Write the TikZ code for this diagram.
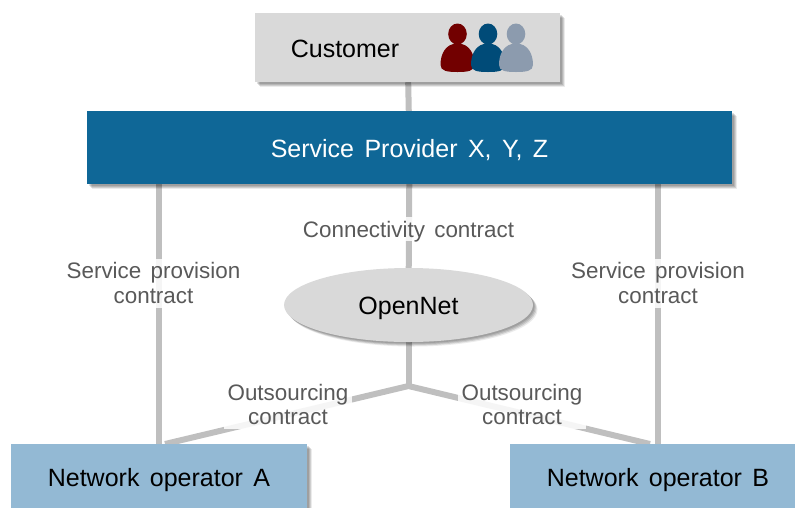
\documentclass[tikz,border=0pt]{standalone}
\usepackage{fontspec}
\setmainfont[WordSpace=1.5]{Liberation Sans}
\usetikzlibrary{shadows,shapes.geometric,backgrounds}
\definecolor{boxgray}{HTML}{D9D9D9}
\definecolor{provblue}{HTML}{0F6797}
\definecolor{opblue}{HTML}{93B9D4}
\definecolor{linkgray}{HTML}{BFBFBF}
\definecolor{labelgray}{HTML}{595959}
\definecolor{pred}{HTML}{720000}
\definecolor{pblue}{HTML}{004B78}
\definecolor{pgray}{HTML}{8C9BAE}
\newcommand{\lowered}[2]{\raisebox{-#1pt}[0pt][0pt]{#2}}
\tikzset{
  softshadow/.style={
    general shadow={shadow xshift=1.5pt,shadow yshift=-1.5pt,fill=black,opacity=.12},
    general shadow={shadow xshift=2.5pt,shadow yshift=-2.5pt,fill=black,opacity=.12},
    general shadow={shadow xshift=3.5pt,shadow yshift=-3.5pt,fill=black,opacity=.12},
    general shadow={shadow xshift=4.5pt,shadow yshift=-4.5pt,fill=black,opacity=.08}},
  boxnode/.style={rectangle,softshadow,inner sep=0pt,font=\fontsize{25}{30}\selectfont},
  link/.style={draw=linkgray,line width=6pt},
  lbl/.style={fill=white,fill opacity=.86,text opacity=1,text=labelgray,inner sep=0pt,align=center,
    font=\fontsize{22.4}{24.5}\selectfont},
}
\newcommand{\person}[3]{%
  \fill[#1] (#2,#3) ellipse [x radius=9.3pt,y radius=10.5pt];
  \fill[#1] (#2-17,#3+31) .. controls (#2-17,#3+20) and (#2-12,#3+9.5) .. (#2,#3+9.5)
    .. controls (#2+12,#3+9.5) and (#2+17,#3+20) .. (#2+17,#3+31)
    .. controls (#2+17,#3+37) and (#2+10,#3+38) .. (#2,#3+38)
    .. controls (#2-10,#3+38) and (#2-17,#3+37) .. (#2-17,#3+31) -- cycle;
}
\begin{document}
\begin{tikzpicture}[x=1pt,y=-1pt]
\useasboundingbox (0,0) rectangle (795,507);
\node[boxnode,fill=boxgray,minimum width=305pt,minimum height=69pt] (customer) at (407.5,47.5) {};
\node[anchor=center,font=\fontsize{25}{30}\selectfont] (customertext) at (345,49) {Customer};
\node[boxnode,fill=provblue,text=white,minimum width=645pt,minimum height=73pt] (provider) at (409.5,147.5) {\lowered{9.5}{Service Provider X, Y, Z}};
\node[ellipse,softshadow,fill=boxgray,inner sep=0pt,minimum width=249pt,minimum height=74pt,font=\fontsize{25}{30}\selectfont] (opennet) at (408.5,305) {\lowered{9}{OpenNet}};
\node[boxnode,fill=opblue,minimum width=296pt,minimum height=64pt] (opa) at (159,476) {\lowered{10}{Network operator A}};
\node[boxnode,fill=opblue,minimum width=285pt,minimum height=64pt] (opb) at (652.5,476) {\hspace*{11pt}\lowered{10}{Network operator B}};
\person{pred}{457.5}{34}
\person{pblue}{488}{34}
\person{pgray}{516}{34}
\coordinate (junction) at (408.5,386);
\coordinate (provleft) at (159,184);
\coordinate (provright) at (658,184);
\coordinate (opatop) at (159,444);
\coordinate (opbtop) at (658,444);
\coordinate (opafoot) at (165,444);
\coordinate (opbfoot) at (650,444);
\begin{scope}[on background layer]
  \draw[link] (customer) -- (provider);
  \draw[link] (provider) -- (opennet);
  \draw[link] (provleft) -- (opatop);
  \draw[link] (provright) -- (opbtop);
  \draw[link] (opennet) -- (junction);
  \draw[link,line join=round] (opafoot) -- (junction) -- (opbfoot);
\end{scope}
\node[lbl,minimum width=295pt,minimum height=24pt] (lconn) at (408.5,229) {\lowered{8}{Connectivity contract}};
\node[lbl,minimum width=177pt,minimum height=49pt] (lspa) at (153.5,283) {Service provision\\contract};
\node[lbl,minimum width=177pt,minimum height=49pt] (lspb) at (658,283) {Service provision\\contract};
\node[lbl,minimum width=128pt,minimum height=48pt] (loa) at (288,404.5) {Outsourcing\\contract};
\node[lbl,minimum width=128pt,minimum height=48pt] (lob) at (522,404.5) {Outsourcing\\contract};
\end{tikzpicture}
\end{document}
